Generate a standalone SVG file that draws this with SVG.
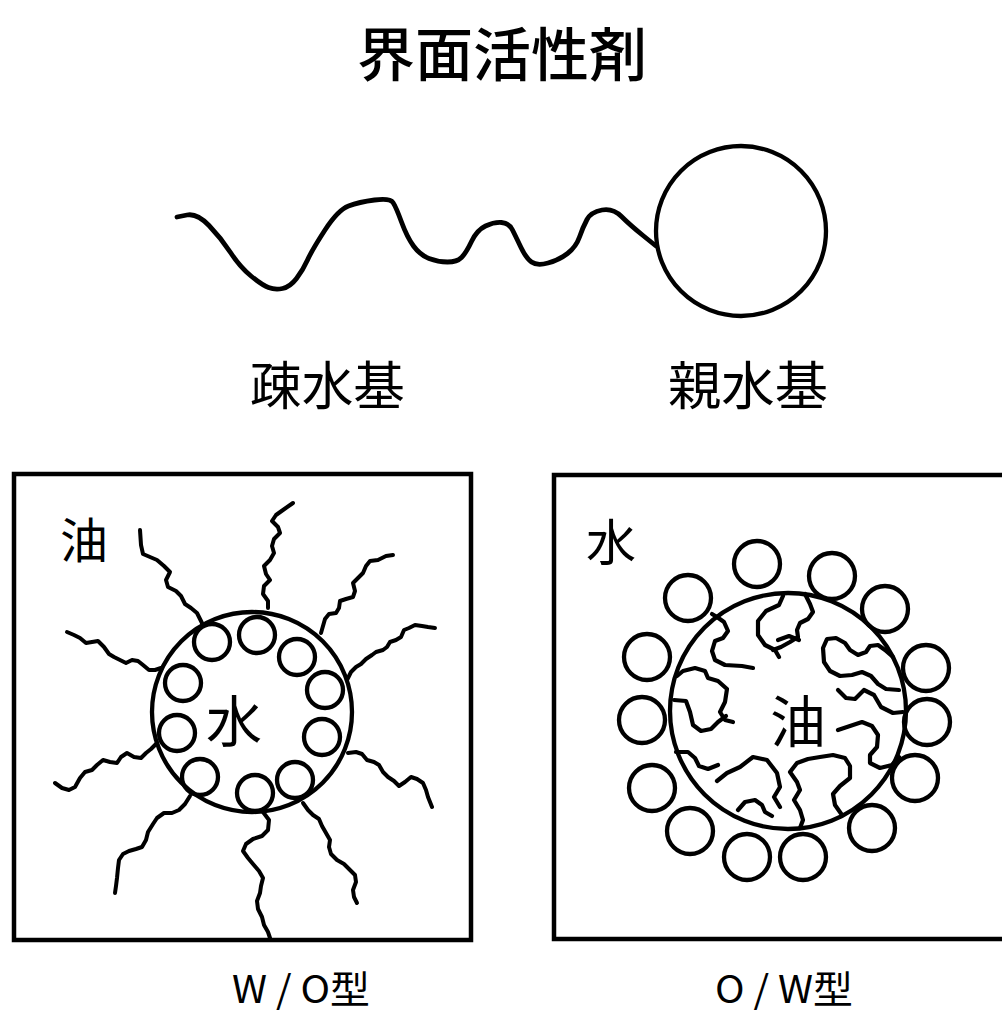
<svg xmlns="http://www.w3.org/2000/svg" width="1002" height="1013" viewBox="0 0 1002 1013">
  <style>
    .ink { fill: none; stroke: #000; stroke-linecap: round; stroke-linejoin: round; }
    .frame { fill: none; stroke: #000; stroke-width: 4.5; }
    .head { fill: none; stroke: #000; stroke-width: 4.3; }
    .tail { fill: none; stroke: #000; stroke-width: 4; stroke-linecap: round; stroke-linejoin: round; }
    .chain { fill: none; stroke: #000; stroke-width: 4.2; stroke-linecap: round; stroke-linejoin: round; }
    .txt { font-family: "Noto Sans CJK JP", "Noto Sans", sans-serif; fill: #000; }
  </style>
  <rect width="1002" height="1013" fill="#fff"/>

  <!-- title -->
  <g id="title">
    <text class="txt" x="357" y="76" font-size="58" font-weight="500" textLength="290" lengthAdjust="spacingAndGlyphs">界面活性剤</text>
  </g>

  <!-- single surfactant molecule: tail + head -->
  <g id="molecule">
    <path class="ink" stroke-width="4.8" d="M177,217 L187,215 Q197,213 209,225.5 Q221,238 230.5,252.5 Q240,267 251,276 Q262,285 268.5,287.5 Q275,290 282.5,288.5 Q290,287 296.5,278.5 Q303,270 307.5,260 Q312,250 325,230 Q338,210 348.5,206 Q359,202 374.5,200 Q390,198 393,202.5 Q396,207 401.5,222 Q407,237 413.5,246 Q420,255 429,258.5 Q438,262 447.5,262 Q457,262 461.5,257.5 Q466,253 471.5,241.5 Q477,230 485.5,226 Q494,222 501.5,222.5 Q509,223 512.5,230 Q516,237 521,247.5 Q526,258 531.5,262 Q537,266 548,263 Q559,260 567.5,253.5 Q576,247 579.5,237 Q583,227 587,219.5 Q591,212 602,210 Q613,208 621.5,216.5 Q630,225 643,235.5 L656,246"/>
    <circle class="head" cx="741" cy="231" r="85"/>
  </g>
  <g id="label-hydrophobic">
    <text class="txt" x="250" y="405" font-size="52" textLength="155" lengthAdjust="spacingAndGlyphs">疎水基</text>
  </g>
  <g id="label-hydrophilic">
    <text class="txt" x="668" y="405" font-size="52" textLength="160" lengthAdjust="spacingAndGlyphs">親水基</text>
  </g>

  <!-- W/O micelle -->
  <g id="wo-panel">
    <rect class="frame" x="14" y="474" width="457" height="466"/>
    <text class="txt" x="60" y="558" font-size="48">油</text>
    <circle class="head" cx="252" cy="712" r="100"/>
    <g class="head">
      <circle cx="212" cy="642" r="18"/>
      <circle cx="257" cy="635" r="18"/>
      <circle cx="297" cy="657" r="18"/>
      <circle cx="325" cy="690" r="18"/>
      <circle cx="322" cy="737" r="18"/>
      <circle cx="295" cy="780" r="18"/>
      <circle cx="255" cy="793" r="18"/>
      <circle cx="200" cy="777" r="18"/>
      <circle cx="177" cy="733" r="18"/>
      <circle cx="183" cy="683" r="18"/>
    </g>
    <text class="txt" x="234" y="742" font-size="56" text-anchor="middle">水</text>
    <g class="tail">
      <polyline points="140,530 141,545 143,554 150,557 157,560 164,566 170,572 166,580 168,587 176,591 181,596 185,604 191,608 197,613 202,623"/>
      <polyline points="293,503 283,510 276,515 272,521 278,527 280,533 274,539 272,546 274,553 270,560 264,566 266,574 270,580 264,586 263,594 268,601 268,608"/>
      <polyline points="393,555 386,556 378,560 370,561 366,566 363,573 358,578 353,583 355,591 353,597 346,599 340,601 339,608 336,613 329,614 325,619 321,633"/>
      <polyline points="435,628 428,627 422,626 415,625 409,628 404,630 401,637 396,640 390,642 387,647 383,650 376,652 372,655 366,659 361,664 356,667 351,672 347,680"/>
      <polyline points="348,753 356,752 362,754 367,760 374,762 379,765 383,772 388,777 394,781 399,786 405,782 411,777 417,779 423,783 426,790 428,797 432,807"/>
      <polyline points="303,803 308,810 313,815 319,819 322,826 326,833 330,840 329,847 331,854 337,860 344,864 349,869 355,875 356,882 353,890 354,897 357,903"/>
      <polyline points="263,812 269,820 268,830 262,836 253,839 246,844 243,851 248,858 253,864 259,871 263,878 261,886 260,893 257,901 258,909 262,917 264,925 268,932 270,938"/>
      <polyline points="190,796 185,804 179,810 172,813 164,813 157,818 153,824 148,832 146,840 142,847 136,849 129,851 123,854 119,860 118,868 117,878 116,886 115,893"/>
      <polyline points="157,743 151,749 146,753 141,758 134,757 127,753 121,757 117,763 110,762 103,760 97,765 92,770 85,772 80,778 75,787 69,790 62,788 55,783"/>
      <polyline points="161,668 155,670 149,670 143,665 138,661 132,660 126,663 120,660 114,657 109,654 104,647 98,641 92,642 86,643 80,638 74,635 67,632"/>
    </g>
  </g>

  <!-- O/W micelle -->
  <g id="ow-panel">
    <rect class="frame" x="554" y="475" width="470" height="464"/>
    <text class="txt" x="586" y="561" font-size="50">水</text>
    <circle class="head" cx="788" cy="711" r="118"/>
    <g class="head">
      <circle cx="688" cy="598" r="23"/>
      <circle cx="757" cy="564" r="23"/>
      <circle cx="832" cy="576" r="23"/>
      <circle cx="885" cy="609" r="23"/>
      <circle cx="926" cy="668" r="23"/>
      <circle cx="927" cy="722" r="23"/>
      <circle cx="915" cy="778" r="23"/>
      <circle cx="872" cy="828" r="23"/>
      <circle cx="803" cy="857" r="23"/>
      <circle cx="747" cy="857" r="23"/>
      <circle cx="690" cy="831" r="23"/>
      <circle cx="652" cy="788" r="23"/>
      <circle cx="642" cy="720" r="23"/>
      <circle cx="647" cy="657" r="23"/>
    </g>
    <text class="txt" x="798" y="742" font-size="56" text-anchor="middle">油</text>
    <g class="chain">
      <polyline points="712,614 717,617 724,622 728,631 723,638 715,641 712,651 715,660 725,665 742,666 753,668"/>
      <polyline points="783,596 779,605 766,611 758,621 758,635 765,645 775,650 779,657"/>
      <polyline points="778,640 789,636 799,640"/>
      <polyline points="805,594 810,604 813,612 808,619 800,623 797,630 798,637 790,642 781,647 773,650"/>
      <polyline points="893,657 885,650 878,645 870,646 866,652 858,655 850,650 845,643 836,638 827,639 823,648 824,662 830,671 840,676 852,675 862,672 871,676 878,684 886,689 899,690"/>
      <polyline points="903,712 893,713 881,707 874,695 864,690 855,699 846,698 838,690"/>
      <polyline points="838,730 850,726 862,722 872,726 878,735 877,747 870,755 870,763 880,768 892,765 899,757"/>
      <polyline points="842,815 835,805 833,794 840,786 850,778 850,766 845,758 833,755 820,757 808,759 797,763 790,772 797,782 800,790 794,800 800,810 803,820 800,828"/>
      <polyline points="717,781 727,773 740,767 753,757 767,760 777,773 780,787 774,797 780,807"/>
      <polyline points="738,810 745,802 755,800 762,805 765,812 772,816"/>
      <polyline points="676,752 688,752 695,758 699,766 708,769 718,765"/>
      <polyline points="677,676 683,671 695,668 705,671 708,678 718,681 727,689 725,702 720,712 725,720 733,722"/>
      <polyline points="674,700 686,701 690,712 693,725 701,731 711,729 718,722 726,716"/>
    </g>
  </g>

  <!-- type labels -->
  <g id="label-wo">
    <text class="txt" x="232" y="1003" font-size="38" textLength="138" lengthAdjust="spacingAndGlyphs">W / O型</text>
  </g>
  <g id="label-ow">
    <text class="txt" x="715" y="1003" font-size="38" textLength="138" lengthAdjust="spacingAndGlyphs">O / W型</text>
  </g>
</svg>
